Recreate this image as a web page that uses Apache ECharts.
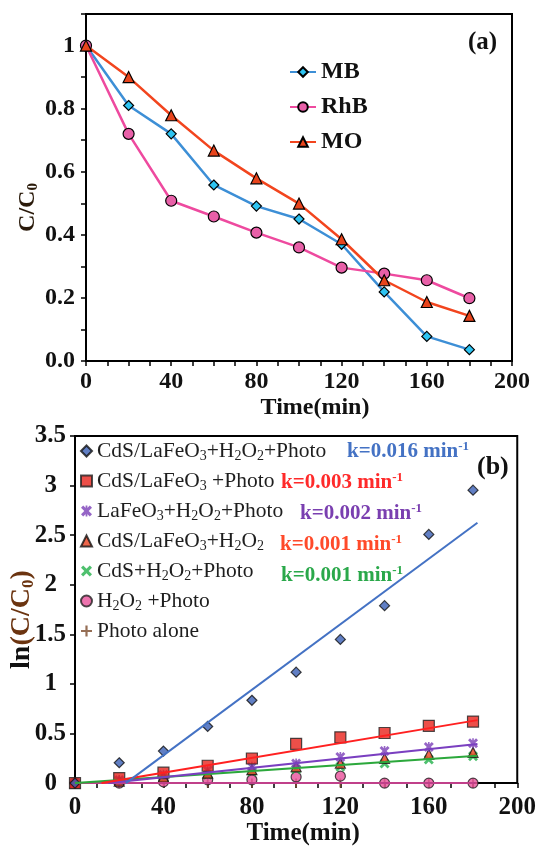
<!DOCTYPE html>
<html><head><meta charset="utf-8">
<script src="https://cdn.jsdelivr.net/npm/echarts@6/dist/echarts.min.js"></script>
<style>html,body{margin:0;padding:0;background:#fff}#c{width:539px;height:847px}</style>
</head><body><div id="c"></div><script>
// ---------- data (a) ----------
const timeA = [0, 20, 40, 60, 80, 100, 120, 140, 160, 180];
const mbVals = [1, 0.81, 0.72, 0.558, 0.491, 0.45, 0.37, 0.219, 0.078, 0.036];
const rhbVals = [1, 0.72, 0.508, 0.458, 0.407, 0.36, 0.296, 0.277, 0.256, 0.199];
const moVals = [1, 0.9, 0.779, 0.667, 0.579, 0.499, 0.386, 0.256, 0.187, 0.143];
const namesA = ['MB', 'RhB', 'MO'];
// ---------- data (b) ----------
const timeB = [0, 20, 40, 60, 80, 100, 120, 140, 160, 180];
const namesB = ['CdS/LaFeO3+H2O2+Photo', 'CdS/LaFeO3 +Photo', 'LaFeO3+H2O2+Photo', 'CdS/LaFeO3+H2O2', 'CdS+H2O2+Photo', 'H2O2 +Photo', 'Photo alone'];
const diamondVals = [0, 0.205, 0.323, 0.571, 0.835, 1.119, 1.449, 1.789, 2.508, 2.954];
const squareVals = [0, 0.05, 0.105, 0.175, 0.248, 0.396, 0.462, 0.505, 0.578, 0.62];
const starVals = [0, 0.03, 0.085, 0.13, 0.165, 0.198, 0.264, 0.323, 0.363, 0.403];
const triVals = [0, 0.02, 0.06, 0.1, 0.135, 0.165, 0.2, 0.25, 0.29, 0.31];
const xVals = [0, 0.02, 0.05, 0.083, 0.116, 0.139, 0.165, 0.198, 0.238, 0.27];
const circleVals = [0, 0, 0.012, 0.033, 0.033, 0.062, 0.07, 0, 0, 0];
const plusVals = [0, 0, 0, 0, 0, 0, 0, 0, 0, 0];
// linear-fit lines: [x, y] end points
const fitBlue = [[23, 0], [182, 2.625]];
const fitRed = [[12, 0], [182, 0.635]];
const fitPurple = [[15, 0], [182, 0.395]];
const fitGreen = [[0, 0], [182, 0.275]];
const fitPink = [[0, 0], [181, 0]];
const kLabels = ['k=0.016 min', 'k=0.003 min', 'k=0.002 min', 'k=0.001 min', 'k=0.001 min'];
const xTickLabels = [0, 40, 80, 120, 160, 200];

const SERIF = '"Liberation Serif", "Times New Roman", serif';
const pair = (xs, ys) => xs.map((x, i) => [x, ys[i]]);

const xCross = 'path://M2,0L5,3L8,0L10,2L7,5L10,8L8,10L5,7L2,10L0,8L3,5L0,2Z';
const star = 'path://M2,0L5,3L8,0L10,2L7,5L10,8L8,10L5,7L2,10L0,8L3,5L0,2ZM4.2,0L5.8,0L5.8,10L4.2,10Z';
const plus = 'path://M4,0L6,0L6,4L10,4L10,6L6,6L6,10L4,10L4,6L0,6L0,4L4,4Z';

function subFmt(name) {
  return '{a|' + name.replace(/(\d)/g, '}{s|$1}{a|') + '}';
}

const chart = echarts.init(document.getElementById('c'), null, {renderer: 'canvas'});

const axisCommon = {
  axisLine: {lineStyle: {color: '#000', width: 2}},
  axisTick: {show: true, inside: false, length: 5, lineStyle: {color: '#000', width: 1.5}},
  splitLine: {show: false},
};

const legendRowH = 24, legendGap = 7, legendTopB = 440;
const kX = [347, 281, 300, 280, 281];
const kColors = ['#4472c4', '#ff2a2a', '#7a3fb0', '#ff4a2a', '#2aa84a'];

const graphics = [
  {type: 'text', x: 468, y: 43, style: {text: '(a)', fill: '#111', font: 'bold 25px ' + SERIF, verticalAlign: 'middle'}},
  {type: 'text', x: 477, y: 467, style: {text: '(b)', fill: '#111', font: 'bold 26px ' + SERIF, verticalAlign: 'middle'}},
];
kLabels.forEach((t, i) => {
  graphics.push({
    type: 'text', x: kX[i], y: legendTopB + legendRowH / 2 + i * (legendRowH + legendGap),
    style: {
      text: '{k|' + t + '}{p|-1}', verticalAlign: 'middle', align: 'left',
      rich: {
        k: {fontFamily: SERIF, fontWeight: 'bold', fontSize: 21, fill: kColors[i], lineHeight: 23},
        p: {fontFamily: SERIF, fontWeight: 'bold', fontSize: 13, fill: kColors[i], verticalAlign: 'top', lineHeight: 13}
      }
    }
  });
});

const option = {
  animation: false,
  backgroundColor: '#fff',
  grid: [
    {left: 86, right: 27, top: 14, bottom: 486, show: true, borderColor: '#000', borderWidth: 2, backgroundColor: 'transparent'},
    {left: 75, right: 16, top: 436, bottom: 58, show: true, borderColor: '#000', borderWidth: 2, backgroundColor: 'transparent'}
  ],
  xAxis: [
    Object.assign({}, axisCommon, {
      gridIndex: 0, type: 'value', min: 0, max: 200, interval: 10,
      axisLabel: {margin: 9, fontFamily: SERIF, fontWeight: 'bold', fontSize: 24, color: '#111',
        formatter: v => xTickLabels.indexOf(Math.round(v)) >= 0 ? String(Math.round(v)) : ''},
      name: 'Time(min)', nameLocation: 'middle', nameGap: 35,
      nameTextStyle: {fontFamily: SERIF, fontWeight: 'bold', fontSize: 24, color: '#111', padding: [0, 0, 0, 32]}
    }),
    Object.assign({}, axisCommon, {
      gridIndex: 1, type: 'value', min: 0, max: 200, interval: 10,
      axisLabel: {margin: 12, fontFamily: SERIF, fontWeight: 'bold', fontSize: 25, color: '#111',
        formatter: v => xTickLabels.indexOf(Math.round(v)) >= 0 ? String(Math.round(v)) : ''},
      name: 'Time(min)', nameLocation: 'middle', nameGap: 34,
      nameTextStyle: {fontFamily: SERIF, fontWeight: 'bold', fontSize: 25, color: '#111', padding: [0, 0, 0, 14]}
    })
  ],
  yAxis: [
    Object.assign({}, axisCommon, {
      gridIndex: 0, type: 'value', min: 0, max: 1.1, interval: 0.1,
      axisLabel: {margin: 11, fontFamily: SERIF, fontWeight: 'bold', fontSize: 24, color: '#111',
        formatter: v => {
          const n = Math.round(v * 10);
          if (n % 2 !== 0 || n > 10) return '';
          if (n === 0) return '0.0';
          if (n === 10) return '1';
          return (n / 10).toFixed(1);
        }},
      name: '{a|C/C}{s|0}', nameLocation: 'middle', nameGap: 45, nameMoveOverlap: false,
      nameTextStyle: {
        padding: [0, 40, 0, 0],
        rich: {
          a: {fontFamily: SERIF, fontWeight: 'bold', fontSize: 24, color: '#2a1a0a', lineHeight: 26},
          s: {fontFamily: SERIF, fontWeight: 'bold', fontSize: 15, color: '#2a1a0a', verticalAlign: 'bottom', lineHeight: 15}
        }
      }
    }),
    Object.assign({}, axisCommon, {
      gridIndex: 1, type: 'value', min: 0, max: 3.5, interval: 0.5,
      axisLabel: {margin: 9,
        formatter: v => Number.isInteger(v) ? '{i|' + v + '}' : '{d|' + v + '}',
        rich: {
          i: {fontFamily: SERIF, fontWeight: 'bold', fontSize: 25, color: '#111', padding: [0, 9, 0, 0]},
          d: {fontFamily: SERIF, fontWeight: 'bold', fontSize: 25, color: '#111'}
        }},
      name: '{l|ln}{a|(C/C}{s|0}{a|)}', nameLocation: 'middle', nameGap: 38, nameMoveOverlap: false,
      nameTextStyle: {
        padding: [0, 20, 0, 0],
        rich: {
          l: {fontFamily: SERIF, fontWeight: 'bold', fontSize: 28, color: '#111', lineHeight: 30},
          a: {fontFamily: SERIF, fontWeight: 'bold', fontSize: 28, color: '#6b3410', lineHeight: 30},
          s: {fontFamily: SERIF, fontWeight: 'bold', fontSize: 17, color: '#6b3410', verticalAlign: 'bottom', lineHeight: 18}
        }
      }
    })
  ],
  legend: [
    {
      data: namesA, orient: 'vertical', left: 289, top: 60, padding: 0,
      itemWidth: 26, itemHeight: 12, itemGap: 11,
      textStyle: {fontFamily: SERIF, fontWeight: 'bold', fontSize: 24, color: '#111', lineHeight: 24}
    },
    {
      data: namesB, orient: 'vertical', left: 80, top: legendTopB, padding: 0,
      itemWidth: 11, itemHeight: 11, itemGap: legendGap,
      formatter: subFmt,
      textStyle: {
        rich: {
          a: {fontFamily: SERIF, fontSize: 21.5, color: '#1e1e1e', lineHeight: legendRowH},
          s: {fontFamily: SERIF, fontSize: 14, color: '#1e1e1e', verticalAlign: 'bottom', lineHeight: 14}
        }
      }
    }
  ],
  graphic: graphics,
  series: [
    // (a)
    {name: 'MB', type: 'line', xAxisIndex: 0, yAxisIndex: 0, data: pair(timeA, mbVals),
      symbol: 'diamond', symbolSize: 10, lineStyle: {color: '#3d8fd6', width: 2.5},
      itemStyle: {color: '#2ec4f2', borderColor: '#000', borderWidth: 1.2}},
    {name: 'RhB', type: 'line', xAxisIndex: 0, yAxisIndex: 0, data: pair(timeA, rhbVals),
      symbol: 'circle', symbolSize: 11, lineStyle: {color: '#ee4a9f', width: 2.5},
      itemStyle: {color: '#e860a8', borderColor: '#000', borderWidth: 1.2}},
    {name: 'MO', type: 'line', xAxisIndex: 0, yAxisIndex: 0, data: pair(timeA, moVals),
      symbol: 'triangle', symbolSize: 11, lineStyle: {color: '#f2451e', width: 2.5},
      itemStyle: {color: '#e8441c', borderColor: '#000', borderWidth: 1.2}},
    // (b) fit lines
    {name: 'fitPink', type: 'line', xAxisIndex: 1, yAxisIndex: 1, data: fitPink, showSymbol: false, symbol: 'none',
      lineStyle: {color: '#c0408a', width: 2}, silent: true},
    {name: 'fitGreen', type: 'line', xAxisIndex: 1, yAxisIndex: 1, data: fitGreen, showSymbol: false, symbol: 'none',
      lineStyle: {color: '#2ca83c', width: 2}, silent: true},
    {name: 'fitPurple', type: 'line', xAxisIndex: 1, yAxisIndex: 1, data: fitPurple, showSymbol: false, symbol: 'none',
      lineStyle: {color: '#7a3fc0', width: 2}, silent: true},
    {name: 'fitRed', type: 'line', xAxisIndex: 1, yAxisIndex: 1, data: fitRed, showSymbol: false, symbol: 'none',
      lineStyle: {color: '#ff2020', width: 2}, silent: true},
    {name: 'fitBlue', type: 'line', xAxisIndex: 1, yAxisIndex: 1, data: fitBlue, showSymbol: false, symbol: 'none',
      lineStyle: {color: '#4472c4', width: 2}, silent: true},
    // (b) points
    {name: namesB[6], type: 'scatter', xAxisIndex: 1, yAxisIndex: 1, data: pair(timeB, plusVals),
      symbol: plus, symbolSize: 9, itemStyle: {color: '#7a4a2a'}},
    {name: namesB[5], type: 'scatter', xAxisIndex: 1, yAxisIndex: 1, data: pair(timeB, circleVals),
      symbol: 'circle', symbolSize: 10, itemStyle: {color: '#e8509a', borderColor: '#222', borderWidth: 1.2}},
    {name: namesB[4], type: 'scatter', xAxisIndex: 1, yAxisIndex: 1, data: pair(timeB, xVals),
      symbol: xCross, symbolSize: 10, itemStyle: {color: '#22b04a'}},
    {name: namesB[3], type: 'scatter', xAxisIndex: 1, yAxisIndex: 1, data: pair(timeB, triVals),
      symbol: 'triangle', symbolSize: 10, itemStyle: {color: '#e8401e', borderColor: '#111', borderWidth: 1.2}},
    {name: namesB[2], type: 'scatter', xAxisIndex: 1, yAxisIndex: 1, data: pair(timeB, starVals),
      symbol: star, symbolSize: 10, itemStyle: {color: '#7a3fb8'}},
    {name: namesB[1], type: 'scatter', xAxisIndex: 1, yAxisIndex: 1, data: pair(timeB, squareVals),
      symbol: 'rect', symbolSize: 11, itemStyle: {color: '#e8231b', borderColor: '#222', borderWidth: 1.2}},
    {name: namesB[0], type: 'scatter', xAxisIndex: 1, yAxisIndex: 1, data: pair(timeB, diamondVals),
      symbol: 'diamond', symbolSize: 10, itemStyle: {color: '#3a5fb5', borderColor: '#111', borderWidth: 1.2}}
  ]
};
chart.setOption(option);
</script></body></html>
